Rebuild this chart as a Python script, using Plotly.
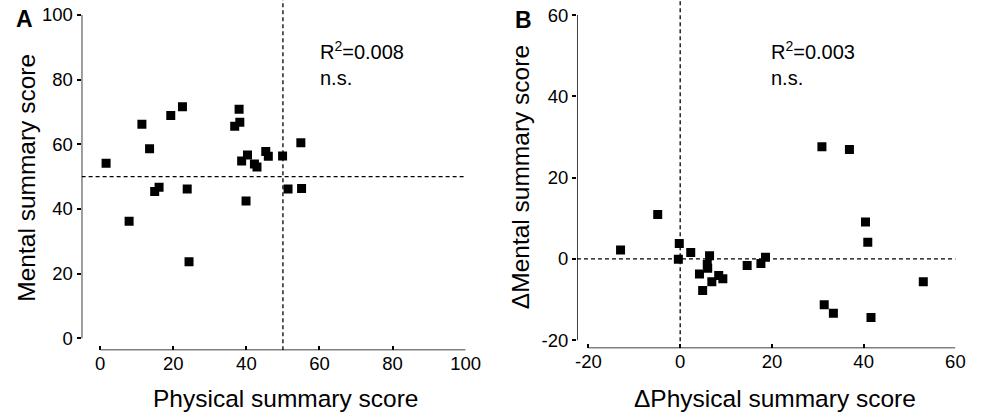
import plotly.graph_objects as go

# ---------------- data ----------------
# Panel A: Physical vs Mental summary score
phys_a = [1.6, 7.9, 11.4, 13.5, 14.9, 16.1, 19.3, 22.5, 23.8, 24.3, 36.8, 38.0,
          38.2, 38.7, 40.3, 39.9, 42.2, 42.9, 45.3, 46.0, 49.9, 51.4, 54.9, 55.1]
ment_a = [54.1, 36.2, 66.2, 58.6, 45.4, 46.7, 68.9, 71.6, 46.2, 23.7, 65.6, 70.8,
          66.8, 54.8, 56.7, 42.5, 53.9, 53.0, 57.8, 56.3, 56.4, 46.2, 60.5, 46.3]
# Panel B: change scores
dphys_b = [-13.0, -4.9, -0.2, -0.4, 2.3, 6.4, 5.9, 6.0, 4.2, 4.9, 6.9, 8.4,
           9.3, 14.6, 17.6, 18.6, 30.9, 36.9, 40.4, 40.9, 31.4, 33.4, 41.6, 53.0]
dment_b = [2.2, 10.9, 3.8, -0.1, 1.6, 0.8, -1.4, -2.3, -3.7, -7.8, -5.6, -4.1,
           -4.9, -1.6, -1.1, 0.4, 27.6, 26.9, 9.1, 4.1, -11.3, -13.4, -14.4, -5.6]

ticks_a = [0, 20, 40, 60, 80, 100]
ticklabels_a = ["0", "20", "40", "60", "80", "100"]
ticks_b = [-20, 0, 20, 40, 60]
ticklabels_b = ["-20", "0", "20", "40", "60"]
ref_a = 50       # reference lines panel A
ref_b = 0        # reference lines panel B
r2_a = "R<sup>2</sup>=0.008"
r2_b = "R<sup>2</sup>=0.003"

# ---------------- figure ----------------
FONT = "Liberation Sans, Arial, sans-serif"
W, H = 993, 419

fig = go.Figure()
marker = dict(symbol="square", size=9, color="black")
fig.add_trace(go.Scatter(x=phys_a, y=ment_a, mode="markers", marker=marker,
                         xaxis="x", yaxis="y", showlegend=False))
fig.add_trace(go.Scatter(x=dphys_b, y=dment_b, mode="markers", marker=marker,
                         xaxis="x2", yaxis="y2", showlegend=False))

# Axis ranges (padding so axes are detached like the original)
xa_rng = [-5.1, 100.0]
ya_rng = [-3.7, 104.6]
xb_rng = [-22.5, 60.0]
yb_rng = [-22.0, 63.7]

tickfont = dict(family=FONT, size=18.5, color="black")
common = dict(showgrid=False, zeroline=False, showline=False,
              ticklen=4, tickwidth=1.5, tickcolor="black", tickfont=tickfont)

fig.update_layout(
    width=W, height=H, autosize=False,
    margin=dict(l=0, r=0, t=0, b=0),
    paper_bgcolor="white", plot_bgcolor="white",
    xaxis=dict(domain=[81 / W, 471.7 / W], range=xa_rng, anchor="y",
               tickvals=ticks_a, ticktext=ticklabels_a, ticks="inside", **common),
    yaxis=dict(domain=[1 - 352 / H, 1.0], range=ya_rng, anchor="x",
               tickvals=ticks_a, ticktext=ticklabels_a, ticks="outside", **common),
    xaxis2=dict(domain=[585 / W, 970 / W], range=xb_rng, anchor="y2",
                tickvals=ticks_b, ticktext=ticklabels_b, ticks="inside", **common),
    yaxis2=dict(domain=[1 - 350 / H, 1.0], range=yb_rng, anchor="x2",
                tickvals=ticks_b, ticktext=ticklabels_b, ticks="outside", **common),
)

axis_line = dict(color="black", width=1.5)
dash_line = dict(color="black", width=1.3, dash="4px,3px")
shapes = [
    # Panel A axes
    dict(type="line", xref="x", yref="y", x0=xa_rng[0], x1=xa_rng[0],
         y0=ticks_a[0], y1=ticks_a[-1], line=axis_line),
    dict(type="line", xref="x", yref="y", x0=ticks_a[0], x1=ticks_a[-1],
         y0=ya_rng[0], y1=ya_rng[0], line=axis_line),
    # Panel A reference lines
    dict(type="line", xref="x", yref="y", x0=xa_rng[0], x1=xa_rng[1],
         y0=ref_a, y1=ref_a, line=dash_line),
    dict(type="line", xref="x", yref="y", x0=ref_a, x1=ref_a,
         y0=ya_rng[0], y1=ya_rng[1], line=dash_line),
    # Panel B axes
    dict(type="line", xref="x2", yref="y2", x0=xb_rng[0], x1=xb_rng[0],
         y0=ticks_b[0], y1=ticks_b[-1], line=axis_line),
    dict(type="line", xref="x2", yref="y2", x0=ticks_b[0], x1=ticks_b[-1],
         y0=yb_rng[0], y1=yb_rng[0], line=axis_line),
    # Panel B reference lines
    dict(type="line", xref="x2", yref="y2", x0=xb_rng[0], x1=xb_rng[1] + 0.4,
         y0=ref_b, y1=ref_b, line=dash_line),
    dict(type="line", xref="x2", yref="y2", x0=ref_b, x1=ref_b,
         y0=yb_rng[0], y1=yb_rng[1], line=dash_line),
]
fig.update_layout(shapes=shapes)

title_font = dict(family=FONT, size=24.5, color="black")
txt_font = dict(family=FONT, size=20, color="black")
lab_font = dict(family="Liberation Sans, Arial", size=23, color="black")
ann = [
    # axis titles
    dict(text="Physical summary score", x=288 / W, y=1 - 400 / H, xref="paper", yref="paper",
         showarrow=False, font=title_font, xanchor="center", yanchor="middle"),
    dict(text="Mental summary score", x=25 / W, y=1 - 179 / H, xref="paper", yref="paper",
         showarrow=False, font=title_font, textangle=-90, xanchor="center", yanchor="middle"),
    dict(text="ΔPhysical summary score", x=786 / W, y=1 - 400 / H, xref="paper", yref="paper",
         showarrow=False, font=title_font, xanchor="center", yanchor="middle"),
    dict(text="ΔMental summary score", x=527 / W, y=1 - 178 / H, xref="paper", yref="paper",
         showarrow=False, font=title_font, textangle=-90, xanchor="center", yanchor="middle"),
    # panel letters
    dict(text="<b>A</b>", x=12 / W, y=1 - 19 / H, xref="paper", yref="paper",
         showarrow=False, font=lab_font, xanchor="left", yanchor="middle"),
    dict(text="<b>B</b>", x=520 / W, y=1 - 20 / H, xref="paper", yref="paper",
         showarrow=False, font=lab_font, xanchor="left", yanchor="middle"),
    # statistics
    dict(text=r2_a + "<br>n.s.", x=322 / W, y=1 - 36 / H, xref="paper", yref="paper",
         showarrow=False, font=txt_font, xanchor="left", yanchor="top", align="left"),
    dict(text=r2_b + "<br>n.s.", x=780 / W, y=1 - 36 / H, xref="paper", yref="paper",
         showarrow=False, font=txt_font, xanchor="left", yanchor="top", align="left"),
]
fig.update_layout(annotations=ann)

fig.write_html("out.html")
